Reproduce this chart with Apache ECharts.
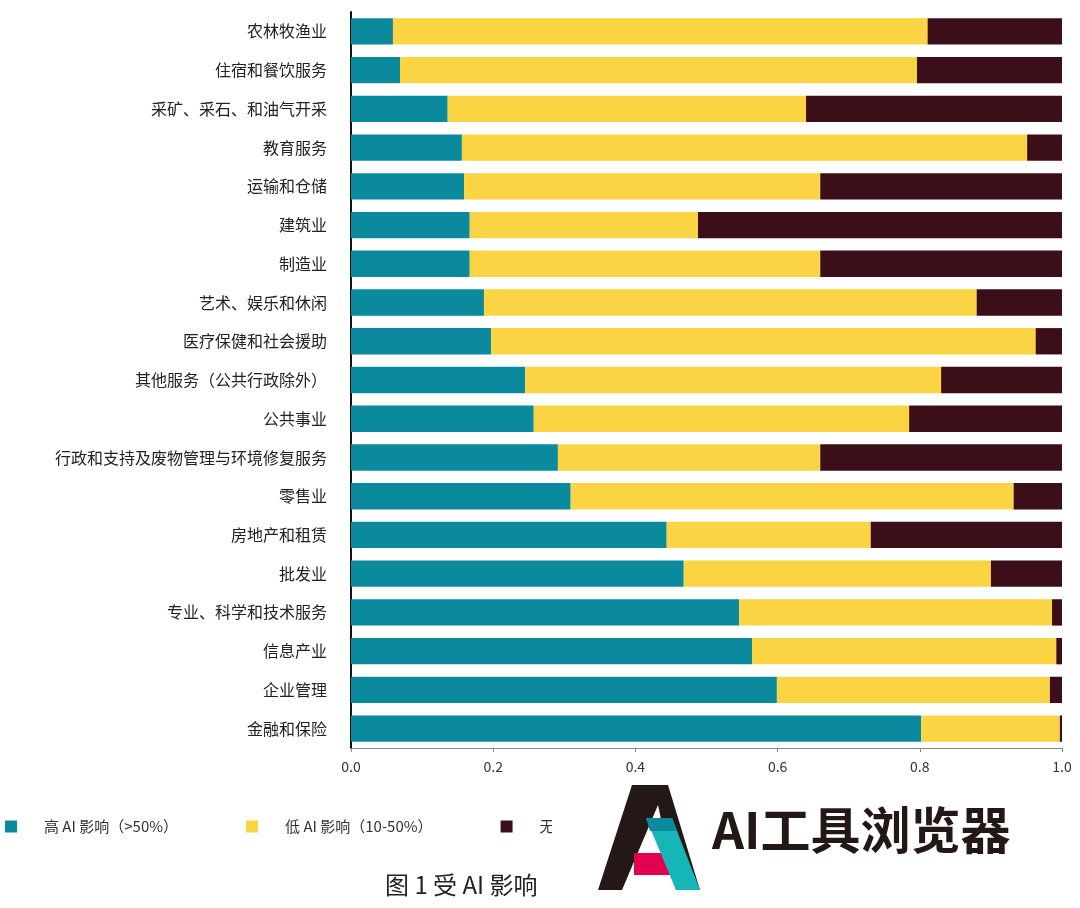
<!DOCTYPE html>
<html>
<head>
<meta charset="utf-8">
<script src="https://cdn.jsdelivr.net/npm/echarts@6/dist/echarts.min.js"></script>
<style>html,body{margin:0;padding:0;background:#fff}#main{width:1080px;height:908px}</style>
</head>
<body>
<div id="main"></div>
<script>
// 行业（自上而下）
var industries = ['农林牧渔业', '住宿和餐饮服务', '采矿、采石、和油气开采', '教育服务', '运输和仓储', '建筑业', '制造业',
    '艺术、娱乐和休闲', '医疗保健和社会援助', '其他服务（公共行政除外）', '公共事业', '行政和支持及废物管理与环境修复服务',
    '零售业', '房地产和租赁', '批发业', '专业、科学和技术服务', '信息产业', '企业管理', '金融和保险'];
var highAI = [0.059, 0.069, 0.136, 0.156, 0.159, 0.167, 0.167, 0.187, 0.197, 0.245, 0.257, 0.291, 0.309, 0.444, 0.468, 0.546, 0.564, 0.599, 0.802];
var lowAI = [0.752, 0.727, 0.504, 0.795, 0.501, 0.321, 0.493, 0.693, 0.766, 0.585, 0.528, 0.369, 0.623, 0.287, 0.432, 0.440, 0.428, 0.384, 0.195];
var noAI = [0.189, 0.204, 0.360, 0.049, 0.340, 0.512, 0.340, 0.120, 0.037, 0.170, 0.215, 0.340, 0.068, 0.269, 0.100, 0.014, 0.008, 0.017, 0.003];
var seriesNames = ['高 AI 影响（>50%）', '低 AI 影响（10-50%）', '无 AI 影响（<10%）'];
var colors = ['#0b8a9e', '#fbd443', '#3b0e18'];

var font = '"Noto Sans CJK SC", sans-serif';
var chart = echarts.init(document.getElementById('main'));

function bar(i, data) {
    return {
        name: seriesNames[i], type: 'bar', stack: 'all', barWidth: '68%',
        itemStyle: { color: colors[i] }, data: data
    };
}

// 水印：放在图例之上
function mark(el) {
    el.z = 100;
    el.zlevel = 1;
    return el;
}

chart.setOption({
    animation: false,
    color: colors,
    textStyle: { fontFamily: font },
    grid: { left: 351, right: 18, top: 12, bottom: 160 },
    legend: {
        left: 0, top: 814, itemWidth: 12, itemHeight: 12, itemGap: 68,
        icon: 'rect',
        textStyle: { fontSize: 15, color: '#333', padding: [0, 0, 0, 22] },
        data: seriesNames
    },
    title: {
        text: '图 1 受 AI 影响', left: 380, top: 868,
        textStyle: { fontSize: 24, fontWeight: 'normal', color: '#222' }
    },
    xAxis: {
        type: 'value', min: 0, max: 1, interval: 0.2,
        axisLine: { show: true, lineStyle: { color: '#888' } },
        axisTick: { show: true, length: 4, lineStyle: { color: '#888' } },
        splitLine: { show: false },
        axisLabel: { fontSize: 14, color: '#333', margin: 12, formatter: function (v) { return v.toFixed(1); } }
    },
    yAxis: {
        type: 'category', inverse: true, data: industries,
        axisLine: { lineStyle: { color: '#111', width: 2 } },
        axisTick: { show: false },
        axisLabel: { fontSize: 16, color: '#222', margin: 24 }
    },
    series: [bar(0, highAI), bar(1, lowAI), bar(2, noAI)],
    graphic: [
        mark({ type: 'rect', shape: { x: 552, y: 780, width: 528, height: 90 }, style: { fill: '#fff' } }),
        mark({ type: 'polygon', shape: { points: [[632, 785], [668, 785], [700, 890], [676, 890], [658, 805], [622, 890], [598, 890]] }, style: { fill: '#231815' } }),
        mark({ type: 'rect', shape: { x: 634, y: 853, width: 36, height: 22 }, style: { fill: '#e5004f' } }),
        mark({ type: 'polygon', shape: { points: [[646, 818], [672, 818], [700, 890], [676, 890]] }, style: { fill: '#16b5b8' } }),
        mark({ type: 'polygon', shape: { points: [[646, 818], [672, 818], [677, 831], [650, 831]] }, style: { fill: '#0b8a9e' } }),
        mark({ type: 'text', x: 712, y: 805, style: { text: 'AI工具浏览器', font: 'bold 50px "Noto Sans CJK SC"', fill: '#231815' } })
    ]
});
</script>
</body>
</html>
